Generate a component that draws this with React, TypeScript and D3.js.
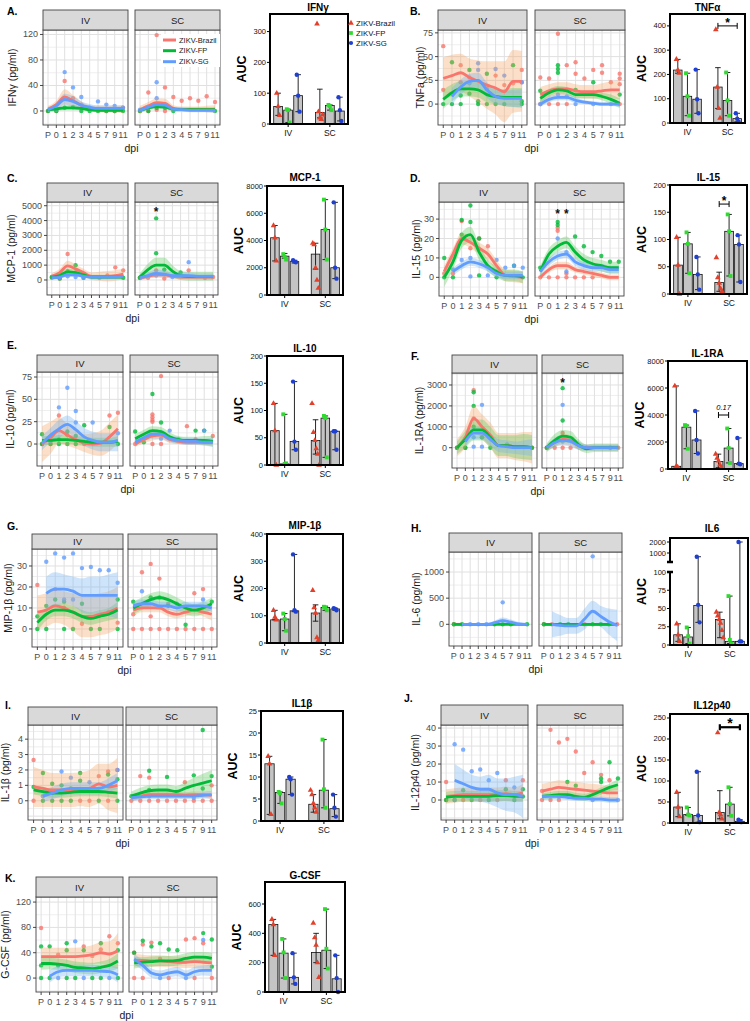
import React from "react";
import * as d3 from "d3";

const DPI = ["P", "0", "1", "2", "3", "4", "5", "7", "9", "11"];
const STRAINS = ["ZIKV-Brazil", "ZIKV-FP", "ZIKV-SG"];
const ROUTES = ["IV", "SC"];
type Pt = [string, number];
type L = (number | null)[];

// ---------- A. IFNγ ----------
const A_IV_LINE: L[] = [[3, 10, 22, 16, 9, 4, 3, 3, 3, 3], [2, 3, 5, 5, 4, 2, 1, 1, 1, 1], [2, 8, 18, 15, 9, 6, 4, 4, 4, 4]];
const A_IV_BAND = [[5, 6, 12, 9, 6, 5, 5, 5, 5, 6], [3, 3, 4, 4, 3, 3, 3, 3, 3, 3], [4, 5, 9, 8, 6, 5, 5, 5, 5, 5]];
const A_IV_PTS: Pt[][] = [
  [["P", 0], ["0", 0], ["1", 47], ["2", 20], ["3", 10], ["4", 5], ["5", 2], ["7", 0], ["9", 0], ["11", 5]],
  [["P", 0], ["0", 0], ["1", 5], ["2", 6], ["3", 0], ["4", 0], ["5", 0], ["7", 0], ["9", 0], ["11", 0]],
  [["1", 61], ["2", 37], ["3", 22], ["5", 15], ["7", 10], ["9", 8], ["11", 5], ["0", 2]],
];
const A_SC_LINE: L[] = [[2, 8, 13, 12, 4, 3, 3, 3, 3, 3], [1, 5, 7, 6, 3, 2, 2, 2, 2, 2], [1, 6, 10, 9, 3, 2, 1, 1, 1, 1]];
const A_SC_BAND = [[6, 6, 7, 7, 5, 4, 4, 4, 5, 6], [3, 3, 4, 4, 3, 2, 2, 2, 2, 3], [3, 4, 5, 5, 3, 3, 3, 3, 3, 4]];
const A_SC_PTS: Pt[][] = [
  [["P", 0], ["0", 29], ["1", 119], ["1", 2], ["2", 37], ["3", 22], ["4", 16], ["5", 20], ["7", 16], ["9", 23], ["11", 14], ["0", 0], ["2", 0]],
  [["P", 0], ["0", 0], ["1", 5], ["2", 5], ["3", 0], ["11", 0]],
  [["1", 45], ["1", 20], ["2", 10], ["P", 2]],
];
const A_AUC_MEAN = [57, 45, 92, 37, 60, 42];
const A_AUC_ERR = [[28, 100], [5, 48], [40, 160], [20, 113], [45, 62], [10, 87]];
const A_AUC_PTS = [[100, 57, 28], [48, 45, 5], [160, 92, 40], [325, 40, 20, 15, 30], [62, 58, 45], [87, 45, 10]];

// ---------- B. TNFα ----------
const B_IV_LINE: L[] = [[27, 30, 33, 28, 24, 20, 17, 13, 24, 24], [5, 12, 16, 16, 15, 10, 8, 7, 7, 7], [null, 8, 18, 24, 25, 15, 8, 6, 6, 6]];
const B_IV_BAND = [[22, 22, 20, 20, 22, 25, 28, 32, 33, 32], [10, 9, 8, 8, 8, 8, 8, 9, 10, 10], [0, 9, 8, 8, 8, 8, 8, 8, 9, 10]];
const B_IV_PTS: Pt[][] = [
  [["P", 61], ["P", 15], ["1", 41], ["1", 23], ["2", 28], ["5", 30], ["7", 20], ["9", 22], ["11", 36], ["11", 23]],
  [["P", 0], ["0", 44], ["0", 0], ["1", 0], ["1", 9], ["2", 36], ["2", 11], ["3", 3], ["3", 0], ["4", 32], ["4", 0], ["5", 0], ["7", 0], ["9", 41], ["11", 3], ["11", 0]],
  [["3", 43], ["3", 36], ["5", 37], ["7", 30], ["11", 23], ["2", 22], ["4", 16]],
];
const B_SC_LINE: L[] = [[10, 14, 16, 16, 14, 13, 13, 14, 15, 15], [6, 12, 15, 14, 10, 10, 10, 8, 5, 1], [0, 5, 7, 7, 4, 2, 1, 0, 0, 0]];
const B_SC_BAND = [[8, 7, 7, 7, 7, 7, 7, 8, 9, 10], [5, 4, 4, 4, 4, 4, 4, 4, 5, 5], [3, 3, 3, 3, 3, 2, 2, 2, 2, 3]];
const B_SC_PTS: Pt[][] = [
  [["P", 28], ["0", 27], ["1", 74], ["2", 41], ["3", 44], ["3", 32], ["4", 27], ["5", 36], ["7", 41], ["7", 33], ["9", 23], ["11", 32], ["11", 27], ["11", 21], ["P", 0], ["0", 0], ["1", 0], ["2", 0], ["11", 0]],
  [["1", 41], ["1", 37], ["1", 33], ["5", 23], ["P", 14], ["11", 10], ["3", 15], ["2", 15]],
  [["P", 0], ["1", 10], ["2", 8], ["3", 0], ["5", 0], ["9", 0]],
];
const B_AUC_MEAN = [218, 110, 98, 148, 93, 18];
const B_AUC_ERR = [[205, 262], [30, 205], [40, 220], [60, 228], [30, 208], [5, 40]];
const B_AUC_PTS = [[262, 218, 205], [205, 110, 30], [220, 98, 40], [385, 148, 60, 20], [208, 93, 30], [40, 18, 5]];

// ---------- C. MCP-1 ----------
const C_IV_LINE: L[] = [[250, 500, 950, 750, 500, 250, 250, 250, 300, 400], [200, 300, 550, 500, 350, 200, 200, 200, 200, 200], [150, 200, 350, 350, 250, 200, 200, 200, 200, 250]];
const C_IV_BAND = [[200, 250, 350, 300, 250, 250, 300, 350, 350, 350], [150, 150, 200, 200, 150, 150, 150, 150, 150, 150], [100, 100, 150, 150, 100, 100, 100, 100, 100, 150]];
const C_IV_PTS: Pt[][] = [
  [["1", 1750], ["P", 150], ["0", 100], ["9", 850], ["11", 650], ["7", 300], ["2", 500]],
  [["1", 600], ["2", 1000], ["P", 200], ["0", 100], ["3", 150], ["11", 150]],
  [["1", 250], ["2", 200], ["3", 150], ["5", 150], ["0", 150]],
];
const C_SC_LINE: L[] = [[150, 250, 350, 350, 250, 200, 200, 200, 200, 200], [200, 700, 1000, 1000, 600, 300, 250, 250, 250, 250], [150, 300, 450, 400, 300, 300, 300, 250, 250, 250]];
const C_SC_BAND = [[150, 150, 200, 200, 150, 150, 150, 150, 150, 200], [250, 400, 500, 500, 400, 300, 300, 300, 300, 300], [150, 200, 250, 250, 200, 200, 200, 200, 200, 200]];
const C_SC_PTS: Pt[][] = [
  [["5", 650], ["1", 650], ["P", 150], ["0", 150], ["2", 100], ["11", 200], ["9", 150]],
  [["1", 4150], ["1", 1800], ["4", 500], ["P", 150], ["2", 700]],
  [["5", 1200], ["1", 300], ["3", 200]],
];
const C_AUC_MEAN = [4200, 2850, 2450, 3000, 4800, 2000];
const C_AUC_ERR = [[2500, 5100], [2700, 3050], [2350, 2550], [1900, 3800], [2600, 7000], [1200, 6800]];
const C_AUC_PTS = [[5100, 4200, 2500], [3000, 2800, 2600], [2550, 2450, 2400], [3800, 3700, 2000, 1100, 500], [7000, 4800, 2600], [6800, 2000, 1200]];

// ---------- D. IL-15 ----------
const D_IV_LINE: L[] = [[3, 12, 20, 18, 15, 12, 6, 1, 0.5, 0], [0, 8, 19, 22, 13, 6, 3, 1, 1, 0], [null, 3, 6, 8, 7, 5, 2, 1, 1, 1]];
const D_IV_BAND = [[3, 3, 3, 3, 3, 3, 3, 3, 3, 3], [5, 4, 4, 4, 4, 3, 3, 3, 3, 3], [0, 2, 2, 2, 2, 2, 2, 2, 2, 2]];
const D_IV_PTS: Pt[][] = [
  [["1", 29], ["2", 15], ["3", 20], ["4", 16], ["P", 2], ["0", 2]],
  [["P", 10], ["P", 0], ["0", 0], ["1", 29.5], ["1", 22], ["2", 37], ["2", 28.5], ["3", 1], ["3", 20], ["5", 0], ["11", 0], ["9", 6]],
  [["1", 9], ["2", 0.5], ["2", 10], ["5", 9], ["7", 5], ["9", 6], ["11", 5], ["0", 4], ["4", 1]],
];
const D_SC_LINE: L[] = [[0, 4, 6, 6, 4, 3, 2, 1, 0, 0], [3, 12, 16, 18, 13, 9, 7, 6, 5, 5], [3, 8, 11, 12, 8, 6, 5, 5, 4, 4]];
const D_SC_BAND = [[1.5, 1.5, 2, 2, 1.5, 1.5, 1.5, 1.5, 1.5, 1.5], [3, 3, 3, 3, 3, 3, 3, 3, 3, 3], [2, 2, 2, 2, 2, 2, 2, 2, 2, 2]];
const D_SC_PTS: Pt[][] = [
  [["1", 25.5], ["1", 24], ["1", 0], ["2", 0], ["0", 0], ["P", 0], ["3", 0], ["4", 0], ["5", 0], ["2", 2]],
  [["1", 28.5], ["1", 27], ["3", 21], ["4", 16], ["5", 13], ["7", 11], ["9", 8], ["11", 8], ["P", 5]],
  [["1", 20], ["2", 3], ["2", 13]],
];
const D_AUC_MEAN = [53, 92, 36, 21, 115, 91];
const D_AUC_ERR = [[0, 104], [38, 113], [8, 68], [5, 40], [33, 146], [22, 108]];
const D_AUC_PTS = [[104, 53, 0], [113, 92, 38], [68, 36, 8], [67, 30, 20, 10, 5], [146, 115, 33], [108, 91, 22]];

// ---------- E. IL-10 ----------
const E_IV_LINE: L[] = [[0, 7, 15, 10, 5, 1, 0, 1, 8, 17], [4, 4, 5, 5, 4, 3, 2, 2, 2, 3], [1, 10, 17, 22, 16, 8, 4, 2, 2, 4]];
const E_IV_BAND = [[20, 18, 15, 12, 10, 10, 12, 14, 16, 16], [5, 5, 5, 5, 5, 5, 5, 5, 5, 6], [8, 8, 10, 10, 10, 10, 10, 10, 10, 12]];
const E_IV_PTS: Pt[][] = [
  [["1", 32], ["9", 32], ["11", 35], ["P", 0], ["0", 0], ["2", 10], ["4", 0]],
  [["P", 11], ["1", 5], ["4", 21], ["9", 19], ["11", 0], ["P", 0], ["0", 0], ["1", 0], ["2", 14], ["3", 0], ["2", 0], ["3", 9]],
  [["2", 63], ["1", 41], ["3", 37], ["3", 24], ["5", 24], ["11", 12], ["0", 3]],
];
const E_SC_LINE: L[] = [[0, 5, 9, 10, 5, 3, 2, 2, 2, 2], [6, 11, 15, 14, 8, 5, 4, 4, 4, 3], [2, 7, 11, 11, 6, 4, 3, 3, 2, 2]];
const E_SC_BAND = [[3, 4, 5, 5, 4, 3, 3, 3, 3, 3], [5, 5, 5, 5, 5, 4, 4, 4, 5, 6], [4, 4, 5, 5, 4, 4, 4, 4, 4, 5]];
const E_SC_PTS: Pt[][] = [
  [["2", 76], ["1", 33], ["1", 30], ["1", 27], ["1", 25], ["5", 20], ["1", 0], ["2", 0], ["P", 0], ["11", 9], ["7", 5]],
  [["1", 56], ["2", 24], ["P", 14], ["9", 15], ["7", 15], ["0", 2], ["4", 5]],
  [["3", 15], ["9", 15], ["1", 10], ["2", 6]],
];
const E_AUC_MEAN = [63, 2, 43, 45, 86, 62];
const E_AUC_ERR = [[0, 113], [0, 93], [28, 153], [20, 83], [14, 90], [28, 62]];
const E_AUC_PTS = [[113, 63, 0], [93, 2, 3], [153, 43, 28], [113, 60, 45, 30, 20, 0], [90, 86, 14], [62, 62, 28]];

// ---------- F. IL-1RA ----------
const F_IV_LINE: L[] = [[0, 500, 1400, 1000, 600, 100, 100, 50, 50, 0], [0, 400, 850, 850, 500, 100, 100, 50, 50, 0], [null, 300, 700, 700, 400, 100, 50, 0, 0, 0]];
const F_IV_BAND = [[400, 500, 600, 600, 600, 600, 600, 650, 700, 750], [300, 400, 500, 500, 500, 500, 500, 550, 600, 600], [0, 250, 300, 300, 300, 300, 300, 300, 350, 400]];
const F_IV_PTS: Pt[][] = [
  [["1", 2750], ["P", 0], ["0", 0], ["1", 1400], ["2", 500], ["11", 0]],
  [["1", 2650], ["1", 2000], ["P", 0], ["0", 0], ["2", 500], ["3", 0], ["11", 0], ["1", 1000]],
  [["2", 2050], ["1", 500], ["1", 50], ["2", 50], ["5", 150]],
];
const F_SC_LINE: L[] = [[0, 250, 400, 350, 100, 0, 0, 0, 0, 0], [0, 350, 550, 500, 150, -50, 0, 0, 0, 0], [0, 250, 350, 300, 100, 0, 0, 0, 0, 0]];
const F_SC_BAND = [[150, 200, 250, 250, 200, 150, 150, 150, 150, 150], [200, 300, 300, 300, 250, 200, 200, 200, 200, 200], [150, 200, 250, 250, 200, 150, 150, 150, 150, 150]];
const F_SC_PTS: Pt[][] = [
  [["1", 700], ["1", 0], ["2", 0], ["0", 0], ["11", 0], ["P", 0]],
  [["1", 2850], ["1", 1300], ["P", 0], ["4", 0], ["9", 0]],
  [["1", 2050], ["1", 300]],
];
const F_AUC_MEAN = [200, 3100, 2150, 550, 1550, 400];
const F_AUC_ERR = [[150, 6150], [1500, 3250], [1150, 4300], [100, 1100], [450, 3000], [350, 2300]];
const F_AUC_PTS = [[6150, 200, 150], [3250, 3200, 1500], [4300, 2150, 1150], [1100, 800, 600, 300, 100], [3000, 1550, 450], [2300, 400, 350]];

// ---------- G. MIP-1β ----------
const G_IV_LINE: L[] = [[8, 9, 11, 10, 8, 6, 6, 7, 8, 10], [3, 7, 9, 9, 8, 6, 5, 6, 7, 9], [null, 17, 19, 19, 18, 16, 16, 16, 16, 16]];
const G_IV_BAND = [[8, 8, 8, 8, 9, 10, 10, 10, 10, 10], [4, 3, 3, 3, 3, 3, 3, 3, 3, 4], [0, 8, 8, 7, 7, 8, 9, 9, 10, 11]];
const G_IV_PTS: Pt[][] = [
  [["P", 21], ["1", 19], ["11", 3], ["4", 2.5], ["2", 10], ["9", 8]],
  [["P", 6], ["P", 0], ["0", 0], ["1", 14], ["2", 0], ["3", 0], ["5", 0], ["7", 0], ["11", 0], ["11", 14], ["0", 11], ["2", 13], ["4", 12]],
  [["0", 32], ["1", 36], ["2", 34], ["3", 36], ["4", 29], ["5", 29.5], ["7", 28], ["9", 28], ["11", 22], ["2", 14], ["3", 14]],
];
const G_SC_LINE: L[] = [[9, 10, 10, 10, 8, 7, 8, 9, 8, 7], [10, 12, 14, 15, 14, 12, 10, 9, 10, 12], [11, 12, 12, 11, 11, 10, 11, 11, 11, 10]];
const G_SC_BAND = [[3, 2, 2, 2, 2, 2, 2, 2, 2, 3], [3, 3, 3, 3, 3, 3, 3, 3, 3, 3], [2, 2, 2, 2, 2, 2, 2, 2, 2, 2]];
const G_SC_PTS: Pt[][] = [
  [["0", 27], ["1", 31], ["2", 24], ["9", 19], ["7", 17], ["P", 7], ["P", 0], ["0", 0], ["1", 0], ["2", 0], ["3", 0], ["4", 0], ["5", 0], ["7", 0], ["9", 0], ["11", 0], ["1", 6], ["3", 12]],
  [["1", 15], ["2", 15], ["5", 2], ["P", 13], ["11", 13], ["3", 11]],
  [["0", 18], ["9", 14], ["4", 12]],
];
const G_AUC_MEAN = [85, 88, 118, 110, 130, 125];
const G_AUC_ERR = [[85, 120], [45, 108], [115, 325], [80, 140], [120, 135], [120, 128]];
const G_AUC_PTS = [[120, 95, 85], [108, 88, 45], [325, 120, 115], [193, 130, 110, 20, 10], [133, 130, 120], [128, 125, 120]];

// ---------- H. IL-6 ----------
const H_IV_LINE: L[] = [[0, 0, null, null, null, null, null, null, null, null], [0, 0, 0, 0, 0, 0, 0, 0, 0, 0], [null, 0, 0, 0, 0, 30, 70, 40, 10, 0]];
const H_IV_BAND = [[5, 5, 5, 5, 5, 5, 5, 5, 5, 5], [5, 5, 5, 5, 5, 5, 5, 5, 5, 5], [0, 20, 20, 20, 20, 40, 60, 50, 30, 20]];
const H_IV_PTS: Pt[][] = [
  [["P", 0]],
  [["P", 0], ["0", 0], ["4", 0], ["5", 0], ["7", 0], ["11", 0]],
  [["5", 420], ["1", 0], ["2", 0], ["3", 0]],
];
const H_SC_LINE: L[] = [[0, 0, 0, 0, 0, 0, 0, 0, 0, 0], [0, 0, 0, 0, 0, 0, 0, 0, 0, 0], [null, 0, -20, -30, -30, 100, 250, 150, 50, -20]];
const H_SC_BAND = [[5, 5, 5, 5, 5, 5, 5, 5, 5, 5], [5, 5, 5, 5, 5, 5, 5, 5, 5, 5], [0, 250, 200, 150, 150, 200, 200, 200, 250, 300]];
const H_SC_PTS: Pt[][] = [
  [["P", 0], ["0", 0], ["11", 0], ["4", 0]],
  [["P", 0], ["1", 0], ["2", 0], ["5", 0], ["7", 0], ["9", 0]],
  [["5", 1300]],
];
const H_AUC_MEAN = [14, 11, 54, 35, 5, 5];
const H_AUC_ERR = [[5, 29], [2, 24], [31, 660], [10, 45], [2, 67], [5, 2000]];
const H_AUC_PTS = [[29, 14, 5], [24, 12, 2], [660, 55, 31], [45, 40, 35, 30, 20, 10], [67, 7, 2], [2000, 5, 5]];

// ---------- I. IL-1β ----------
const I_IV_LINE: L[] = [[0.9, 0.8, 0.7, 0.7, 0.7, 0.75, 0.8, 1.1, 0.9, 1.0], [0.7, 0.6, 0.5, 0.5, 0.55, 0.6, 0.6, 0.6, 0.55, 0.5], [null, 0.3, 0.5, 0.7, 0.8, 0.8, 0.8, 0.8, 1.0, 1.3]];
const I_IV_BAND = [[1.3, 1.2, 1.1, 1.1, 1.1, 1.1, 1.2, 1.3, 1.5, 1.8], [0.3, 0.3, 0.3, 0.3, 0.3, 0.3, 0.3, 0.3, 0.3, 0.35], [0, 0.4, 0.4, 0.4, 0.4, 0.4, 0.4, 0.4, 0.45, 0.5]];
const I_IV_PTS: Pt[][] = [
  [["P", 2.65], ["7", 1.6], ["9", 1.9], ["11", 2.0], ["P", 0], ["4", 0], ["5", 0], ["9", 0]],
  [["0", 1.8], ["1", 1.1], ["4", 1.8], ["4", 1.3], ["9", 1.7], ["11", 1.4], ["P", 0.9], ["0", 0], ["1", 0], ["2", 0], ["3", 0], ["7", 0], ["11", 0], ["2", 1.0], ["3", 0.8]],
  [["2", 1.9], ["3", 1.5], ["5", 1.2], ["11", 2.0], ["1", 0.5], ["0", 0.3]],
];
const I_SC_LINE: L[] = [[0.2, 0.3, 0.4, 0.4, 0.4, 0.4, 0.35, 0.4, 0.4, 0.35], [0.3, 0.5, 0.65, 0.7, 0.7, 0.6, 0.8, 1.0, 1.15, 1.3], [0.2, 0.25, 0.3, 0.3, 0.3, 0.3, 0.3, 0.3, 0.35, 0.4]];
const I_SC_BAND = [[0.25, 0.2, 0.2, 0.2, 0.2, 0.2, 0.2, 0.2, 0.2, 0.25], [0.3, 0.35, 0.35, 0.35, 0.35, 0.35, 0.4, 0.5, 0.6, 0.7], [0.2, 0.2, 0.2, 0.2, 0.2, 0.2, 0.2, 0.2, 0.2, 0.25]];
const I_SC_PTS: Pt[][] = [
  [["0", 1.6], ["1", 1.5], ["5", 1.2], ["P", 0], ["0", 0], ["1", 0], ["2", 0], ["3", 0], ["4", 0], ["5", 0], ["7", 0], ["9", 0], ["11", 0], ["11", 1.0]],
  [["9", 4.6], ["1", 1.95], ["3", 1.55], ["7", 1.65], ["11", 1.6], ["P", 0.3], ["1", 0.7], ["9", 0.8]],
  [["1", 0.3], ["7", 0.2]],
];
const I_AUC_MEAN = [13, 6.5, 9.5, 3.8, 7, 2.8];
const I_AUC_ERR = [[1.5, 14.7], [4, 6.6], [6, 10], [2, 6], [3, 18.5], [1, 6]];
const I_AUC_PTS = [[14.7, 13, 1.5], [6.6, 6.3, 4], [10, 9.5, 6], [7, 6, 4, 3, 2], [18.5, 7.2, 3], [6, 3, 1]];

// ---------- J. IL-12p40 ----------
const J_IV_LINE: L[] = [[2, 2.5, 3, 3, 3, 3, 3, 3.5, 3, 4], [1.5, 2, 2, 2, 2, 2, 2.5, 2.5, 2, 2], [null, 11, 9, 7, 6, 6, 4, 3, 3, 2]];
const J_IV_BAND = [[4, 4, 4, 4, 4, 4, 4, 4, 4, 5], [3, 3, 3, 3, 3, 3, 3, 3, 3, 3], [0, 9, 8, 7, 7, 8, 8, 9, 10, 12]];
const J_IV_PTS: Pt[][] = [
  [["P", 10], ["7", 11], ["11", 11], ["P", 0], ["1", 0], ["3", 0], ["5", 0]],
  [["1", 5.5], ["7", 6], ["11", 6], ["P", 0], ["0", 0], ["2", 0], ["4", 0], ["9", 0], ["11", 2]],
  [["0", 31], ["1", 28], ["2", 16], ["3", 17], ["4", 11], ["5", 15], ["0", 0], ["9", 7]],
];
const J_SC_LINE: L[] = [[5, 6, 7, 6.5, 6, 5.5, 5, 4.5, 4, 4], [2, 2.5, 3, 3, 2, 1.5, 3, 5, 7, 8.5], [2, 2, 2, 1.5, 1, 1, 0.5, 0.5, 0, 0]];
const J_SC_BAND = [[4, 4, 4, 4, 4, 4, 4, 4, 4, 4], [2, 2, 2, 2, 2, 2, 2, 2, 2, 3], [1.5, 1.5, 1.5, 1.5, 1.5, 1.5, 1.5, 1.5, 1.5, 1.5]];
const J_SC_PTS: Pt[][] = [
  [["0", 39], ["1", 32], ["2", 34], ["3", 27], ["4", 15], ["5", 21], ["7", 14], ["9", 11], ["P", 5], ["P", 0], ["0", 0], ["1", 0]],
  [["9", 21], ["7", 12], ["7", 10], ["11", 12], ["2", 10], ["3", 8]],
  [["1", 2], ["11", 0], ["5", 0]],
];
const J_AUC_MEAN = [38, 20, 18, 25, 45, 4];
const J_AUC_ERR = [[15, 73], [18, 37], [2, 122], [10, 77], [17, 85], [2, 8]];
const J_AUC_PTS = [[73, 38, 15], [37, 20, 18], [122, 18, 2], [215, 25, 20, 10], [85, 45, 17], [8, 5, 2]];

// ---------- K. G-CSF ----------
const K_IV_LINE: L[] = [[34, 34, 34, 34, 34, 35, 37, 40, 38, 43], [23, 23, 22, 20, 17, 16, 15, 17, 20, 27], [null, 3, 10, 12, 12, 12, 12, 11, 10, 5]];
const K_IV_BAND = [[15, 14, 14, 14, 14, 14, 15, 17, 20, 28], [10, 9, 9, 9, 9, 9, 9, 9, 10, 12], [0, 10, 9, 9, 9, 9, 9, 9, 10, 12]];
const K_IV_PTS: Pt[][] = [
  [["P", 79], ["9", 66], ["11", 55], ["4", 50], ["1", 37], ["7", 45], ["5", 35]],
  [["P", 50], ["0", 50], ["2", 55], ["2", 44], ["4", 44], ["7", 55], ["11", 44], ["P", 20], ["P", 0], ["0", 0], ["2", 0], ["3", 0], ["5", 0], ["7", 0], ["11", 0], ["1", 20]],
  [["3", 58], ["9", 0], ["4", 0], ["1", 0]],
];
const K_SC_LINE: L[] = [[28, 28, 27, 27, 26, 25, 25, 26, 25, 24], [24, 25, 26, 27, 27, 28, 31, 33, 33, 31], [30, 20, 8, 5, 8, 10, 5, 10, 12, 12]];
const K_SC_BAND = [[10, 9, 9, 9, 9, 9, 9, 10, 10, 12], [9, 8, 8, 8, 8, 8, 8, 8, 8, 9], [8, 8, 7, 7, 7, 7, 7, 8, 8, 9]];
const K_SC_PTS: Pt[][] = [
  [["5", 61], ["7", 63], ["9", 55], ["0", 53], ["1", 56], ["P", 40], ["P", 0], ["0", 0], ["3", 0], ["11", 0], ["7", 0], ["2", 30]],
  [["0", 59], ["9", 71], ["11", 61], ["2", 55], ["1", 50], ["3", 45], ["P", 40], ["11", 18], ["4", 44]],
  [["9", 60], ["2", 0], ["5", 0]],
];
const K_AUC_MEAN = [460, 265, 100, 270, 285, 90];
const K_AUC_ERR = [[250, 495], [95, 362], [55, 265], [200, 400], [160, 565], [0, 250]];
const K_AUC_PTS = [[495, 460, 250], [362, 270, 95], [265, 100, 55], [470, 370, 320, 200, 100], [565, 295, 160], [250, 95, 0]];

// ---------- styles ----------
const FONT = "'Liberation Sans', Arial, Helvetica, sans-serif";
const LINE_COLORS = ["#F8766D", "#00BA38", "#619CFF"];
const BAND_FILLS = ["#F4A460", "#5CC85C", "#6FB3F2"];
const BAR_COLORS = ["#E3402B", "#2EDB2E", "#1E3FD0"];

type Sig = { a: number; b: number; v: number; text: string; italic?: boolean; thick?: boolean };
type Star = { x: string; v: number };

const PANELS: any[] = [
  {
    key: "A", label: "A.", lx: 7, ly: 15, ytitle: "IFNγ (pg/ml)", ytx: 12,
    stripTop: 10, top: 30, bottom: 125, iv: [43, 128], sc: [135, 220], yDomain: [-22, 127], yTicks: [0, 40, 80, 120],
    ivLine: A_IV_LINE, ivBand: A_IV_BAND, ivPts: A_IV_PTS, scLine: A_SC_LINE, scBand: A_SC_BAND, scPts: A_SC_PTS,
    bar: { x0: 270, x1: 348, y0: 14, y1: 124, domain: [0, 357], ticks: [0, 100, 200, 300], title: "IFNγ", tx: 318, ty: 11 },
    mean: A_AUC_MEAN, err: A_AUC_ERR, pts: A_AUC_PTS, sig: [], stars: [],
  },
  {
    key: "B", label: "B.", lx: 410, ly: 15, ytitle: "TNFa (pg/ml)", ytx: 420,
    stripTop: 10, top: 30, bottom: 125, iv: [438, 527], sc: [535, 625], yDomain: [-22, 78], yTicks: [0, 25, 50, 75],
    ivLine: B_IV_LINE, ivBand: B_IV_BAND, ivPts: B_IV_PTS, scLine: B_SC_LINE, scBand: B_SC_BAND, scPts: B_SC_PTS,
    bar: { x0: 670, x1: 745, y0: 14, y1: 123, domain: [0, 449], ticks: [0, 100, 200, 300, 400], title: "TNFα", ty: 11 },
    mean: B_AUC_MEAN, err: B_AUC_ERR, pts: B_AUC_PTS, sig: [{ a: 3, b: 5, v: 400, text: "*" }], stars: [],
  },
  {
    key: "C", label: "C.", lx: 7, ly: 182, ytitle: "MCP-1 (pg/ml)", ytx: 11,
    stripTop: 183, top: 202, bottom: 295, iv: [47, 128], sc: [135, 218], yDomain: [-1010, 5250], yTicks: [0, 1000, 2000, 3000, 4000, 5000],
    ivLine: C_IV_LINE, ivBand: C_IV_BAND, ivPts: C_IV_PTS, scLine: C_SC_LINE, scBand: C_SC_BAND, scPts: C_SC_PTS,
    bar: { x0: 267, x1: 343, y0: 186, y1: 295, domain: [0, 8000], ticks: [0, 2000, 4000, 6000, 8000], title: "MCP-1", ty: 181 },
    mean: C_AUC_MEAN, err: C_AUC_ERR, pts: C_AUC_PTS, sig: [], stars: [{ x: "1", v: 4650 }],
  },
  {
    key: "D", label: "D.", lx: 410, ly: 182, ytitle: "IL-15 (pg/ml)", ytx: 416,
    stripTop: 183, top: 202, bottom: 296, iv: [439, 528], sc: [535, 624], yDomain: [-9.6, 38.8], yTicks: [0, 10, 20, 30],
    ivLine: D_IV_LINE, ivBand: D_IV_BAND, ivPts: D_IV_PTS, scLine: D_SC_LINE, scBand: D_SC_BAND, scPts: D_SC_PTS,
    bar: { x0: 670, x1: 747, y0: 185, y1: 294, domain: [0, 200], ticks: [0, 50, 100, 150, 200], title: "IL-15", ty: 181 },
    mean: D_AUC_MEAN, err: D_AUC_ERR, pts: D_AUC_PTS, sig: [{ a: 3, b: 4, v: 165, text: "*" }], stars: [{ x: "1", v: 33 }, { x: "2", v: 33 }],
  },
  {
    key: "E", label: "E.", lx: 7, ly: 349, ytitle: "IL-10 (pg/ml)", ytx: 10,
    stripTop: 355, top: 372, bottom: 466, iv: [37, 123], sc: [130, 218], yDomain: [-24.6, 80.6], yTicks: [0, 25, 50, 75],
    ivLine: E_IV_LINE, ivBand: E_IV_BAND, ivPts: E_IV_PTS, scLine: E_SC_LINE, scBand: E_SC_BAND, scPts: E_SC_PTS,
    bar: { x0: 267, x1: 343, y0: 356, y1: 465, domain: [0, 200], ticks: [0, 50, 100, 150, 200], title: "IL-10", ty: 352 },
    mean: E_AUC_MEAN, err: E_AUC_ERR, pts: E_AUC_PTS, sig: [], stars: [],
  },
  {
    key: "F", label: "F.", lx: 411, ly: 360, ytitle: "IL-1RA (pg/ml)", ytx: 419,
    stripTop: 355, top: 373, bottom: 468, iv: [452, 537], sc: [542, 623], yDomain: [-971, 3574], yTicks: [0, 1000, 2000, 3000],
    ivLine: F_IV_LINE, ivBand: F_IV_BAND, ivPts: F_IV_PTS, scLine: F_SC_LINE, scBand: F_SC_BAND, scPts: F_SC_PTS,
    bar: { x0: 668, x1: 747, y0: 361, y1: 469, domain: [0, 8000], ticks: [0, 2000, 4000, 6000, 8000], title: "IL-1RA", ty: 357 },
    mean: F_AUC_MEAN, err: F_AUC_ERR, pts: F_AUC_PTS, sig: [{ a: 3, b: 4, v: 4000, text: "0.17", italic: true }], stars: [{ x: "1", v: 3150 }],
  },
  {
    key: "G", label: "G.", lx: 7, ly: 530, ytitle: "MIP-1β (pg/ml)", ytx: 8,
    stripTop: 534, top: 549, bottom: 647, iv: [32, 123], sc: [128, 217], yDomain: [-8.6, 38.1], yTicks: [0, 10, 20, 30],
    ivLine: G_IV_LINE, ivBand: G_IV_BAND, ivPts: G_IV_PTS, scLine: G_SC_LINE, scBand: G_SC_BAND, scPts: G_SC_PTS,
    bar: { x0: 267, x1: 343, y0: 534, y1: 643, domain: [0, 400], ticks: [0, 100, 200, 300, 400], title: "MIP-1β", ty: 529 },
    mean: G_AUC_MEAN, err: G_AUC_ERR, pts: G_AUC_PTS, sig: [], stars: [],
  },
  {
    key: "H", label: "H.", lx: 411, ly: 532, ytitle: "IL-6 (pg/ml)", ytx: 416,
    stripTop: 533, top: 552, bottom: 646, iv: [449, 532], sc: [539, 622], yDomain: [-415, 1383], yTicks: [0, 500, 1000],
    ivLine: H_IV_LINE, ivBand: H_IV_BAND, ivPts: H_IV_PTS, scLine: H_SC_LINE, scBand: H_SC_BAND, scPts: H_SC_PTS,
    bar: { x0: 670, x1: 748, y0: 538, y1: 645, domain: [0, 100], ticks: [0, 25, 50, 75, 100], upper: [1000, 2000], title: "IL6", tx: 712, ty: 532 },
    mean: H_AUC_MEAN, err: H_AUC_ERR, pts: H_AUC_PTS, sig: [], stars: [],
  },
  {
    key: "I", label: "I.", lx: 5, ly: 709, ytitle: "IL-1β (pg/ml)", ytx: 5,
    stripTop: 707, top: 725, bottom: 820, iv: [28, 123], sc: [126, 217], yDomain: [-1.25, 4.92], yTicks: [0, 1, 2, 3, 4],
    ivLine: I_IV_LINE, ivBand: I_IV_BAND, ivPts: I_IV_PTS, scLine: I_SC_LINE, scBand: I_SC_BAND, scPts: I_SC_PTS,
    bar: { x0: 261, x1: 343, y0: 711, y1: 821, domain: [0, 25], ticks: [0, 5, 10, 15, 20, 25], title: "IL1β", ty: 707 },
    mean: I_AUC_MEAN, err: I_AUC_ERR, pts: I_AUC_PTS, sig: [], stars: [],
  },
  {
    key: "J", label: "J.", lx: 404, ly: 702, ytitle: "IL-12p40 (pg/ml)", ytx: 415,
    stripTop: 705, top: 725, bottom: 820, iv: [441, 528], sc: [537, 623], yDomain: [-11.1, 41.7], yTicks: [0, 10, 20, 30, 40],
    ivLine: J_IV_LINE, ivBand: J_IV_BAND, ivPts: J_IV_PTS, scLine: J_SC_LINE, scBand: J_SC_BAND, scPts: J_SC_PTS,
    bar: { x0: 670, x1: 748, y0: 714, y1: 823, domain: [0, 259.5], ticks: [0, 50, 100, 150, 200, 250], title: "IL12p40", tx: 712, ty: 709 },
    mean: J_AUC_MEAN, err: J_AUC_ERR, pts: J_AUC_PTS, sig: [{ a: 3, b: 5, v: 228, text: "*", thick: true }], stars: [],
  },
  {
    key: "K", label: "K.", lx: 5, ly: 882, ytitle: "G-CSF (pg/ml)", ytx: 5,
    stripTop: 877, top: 897, bottom: 992, iv: [36, 123], sc: [129, 217], yDomain: [-22, 128], yTicks: [0, 40, 80, 120],
    ivLine: K_IV_LINE, ivBand: K_IV_BAND, ivPts: K_IV_PTS, scLine: K_SC_LINE, scBand: K_SC_BAND, scPts: K_SC_PTS,
    bar: { x0: 265, x1: 345, y0: 882, y1: 992, domain: [0, 750], ticks: [0, 200, 400, 600], title: "G-CSF", ty: 879 },
    mean: K_AUC_MEAN, err: K_AUC_ERR, pts: K_AUC_PTS, sig: [], stars: [],
  },
];

function Facet({ p, name, xr, lines, bands, pts, y, stars }: any) {
  const x = d3.scalePoint<string>().domain(DPI).range(xr).padding(0.6);
  const clipId = `clip-${p.key}-${name}`;
  const step = p.yTicks[1] - p.yTicks[0];
  const half = step / 2;
  const gridVals = d3.range(Math.ceil(p.yDomain[0] / half) * half, p.yDomain[1], half);
  const lineGen = d3
    .line<number | null>()
    .defined((v) => v != null)
    .x((_, j) => x(DPI[j])!)
    .y((v) => y(v as number))
    .curve(d3.curveMonotoneX);
  return (
    <g>
      <defs>
        <clipPath id={clipId}>
          <rect x={xr[0]} y={p.top} width={xr[1] - xr[0]} height={p.bottom - p.top} />
        </clipPath>
      </defs>
      <rect x={xr[0]} y={p.top} width={xr[1] - xr[0]} height={p.bottom - p.top} fill="#fff" />
      <g clipPath={`url(#${clipId})`}>
        {gridVals.map((v: number, i: number) => {
          const major = Math.abs(v / step - Math.round(v / step)) < 1e-6;
          return <line key={"h" + i} x1={xr[0]} x2={xr[1]} y1={y(v)} y2={y(v)} stroke={major ? "#e0e0e0" : "#ebebeb"} strokeWidth={major ? 1 : 0.8} />;
        })}
        {DPI.map((d) => (
          <line key={"v" + d} x1={x(d)} x2={x(d)} y1={p.top} y2={p.bottom} stroke="#e0e0e0" strokeWidth={1} />
        ))}
        {pts.map((ser: Pt[], i: number) =>
          ser.map((pt: Pt, k: number) => (
            <circle key={`p${i}-${k}`} cx={x(pt[0])} cy={y(pt[1])} r={2.2} fill={LINE_COLORS[i]} opacity={0.8} />
          ))
        )}
        {lines.map((ln: L, i: number) => {
          const area = d3
            .area<number | null>()
            .defined((v, j) => v != null && bands[i][j] > 0)
            .x((_, j) => x(DPI[j])!)
            .y0((v, j) => y((v as number) - bands[i][j]))
            .y1((v, j) => y((v as number) + bands[i][j]))
            .curve(d3.curveMonotoneX);
          return <path key={"b" + i} d={area(ln) || ""} fill={BAND_FILLS[i]} opacity={0.35} />;
        })}
        {lines.map((ln: L, i: number) => (
          <path key={"l" + i} d={lineGen(ln) || ""} fill="none" stroke={LINE_COLORS[i]} strokeWidth={2.8} strokeLinejoin="round" />
        ))}
      </g>
      {stars.map((s: Star, i: number) => (
        <text key={"s" + i} x={x(s.x)} y={y(s.v) + 5} textAnchor="middle" fontSize={12} fontWeight="bold" fill="#111">*</text>
      ))}
      <rect x={xr[0]} y={p.top} width={xr[1] - xr[0]} height={p.bottom - p.top} fill="none" stroke="#444" strokeWidth={0.9} />
      <rect x={xr[0]} y={p.stripTop} width={xr[1] - xr[0]} height={p.top - p.stripTop} fill="#d9d9d9" stroke="#444" strokeWidth={0.9} />
      <text x={(xr[0] + xr[1]) / 2} y={(p.stripTop + p.top) / 2} dominantBaseline="central" textAnchor="middle" fontSize={9.5} fill="#1a1a1a">{name}</text>
      {DPI.map((d) => (
        <g key={"t" + d}>
          <line x1={x(d)} x2={x(d)} y1={p.bottom} y2={p.bottom + 3} stroke="#333" strokeWidth={0.9} />
          <text x={x(d)} y={p.bottom + 13} textAnchor="middle" fontSize={9} fill="#4d4d4d">{d}</text>
        </g>
      ))}
    </g>
  );
}

function AucChart({ p }: any) {
  const b = p.bar;
  const outer = d3.scaleBand<string>().domain(ROUTES).range([b.x0, b.x1]).paddingInner(0.25).paddingOuter(0.06);
  const inner = d3.scaleBand<string>().domain(STRAINS).range([0, outer.bandwidth()]).padding(0.12);
  const broken = !!b.upper;
  const lower = d3.scaleLinear().domain(b.domain).range([b.y1, broken ? 572 : b.y0]);
  const upper = d3.scaleLinear().domain(b.upper || [0, 1]).range([553, 542]);
  const ys = (v: number) => (broken && v > b.domain[1] ? upper(v) : lower(v));
  const barX = (k: number) => outer(ROUTES[Math.floor(k / 3)])! + inner(STRAINS[k % 3])!;
  const bw = inner.bandwidth();
  const sym = [d3.symbolTriangle, d3.symbolSquare, d3.symbolCircle];
  const ticks = broken ? [...b.ticks, ...b.upper] : b.ticks;
  const midY = (b.y0 + b.y1) / 2;
  return (
    <g>
      <text x={b.tx ?? (b.x0 + b.x1) / 2} y={b.ty} textAnchor="middle" fontSize={10} fontWeight="bold" fill="#000">{b.title}</text>
      <text transform={`translate(${b.x0 - 28},${midY}) rotate(-90)`} textAnchor="middle" dominantBaseline="central" fontSize={12.5} fontWeight="bold" fill="#000">AUC</text>
      {p.mean.map((m: number, k: number) => (
        <rect key={"bar" + k} x={barX(k)} y={ys(m)} width={bw} height={Math.max(0, b.y1 - ys(m))} fill="#c4c4c4" stroke="#111" strokeWidth={0.8} />
      ))}
      {p.err.map((e: number[], k: number) => {
        const cx = barX(k) + bw / 2;
        return (
          <g key={"err" + k} stroke="#111" strokeWidth={0.9}>
            <line x1={cx} x2={cx} y1={ys(e[0])} y2={ys(e[1])} />
            <line x1={cx - 2.8} x2={cx + 2.8} y1={ys(e[1])} y2={ys(e[1])} />
            <line x1={cx - 2.8} x2={cx + 2.8} y1={ys(e[0])} y2={ys(e[0])} />
          </g>
        );
      })}
      {p.pts.map((arr: number[], k: number) =>
        arr.map((v: number, j: number) => {
          const cx = barX(k) + bw / 2 + (j - (arr.length - 1) / 2) * 1.4;
          const path = d3.symbol().type(sym[k % 3]).size(k % 3 === 0 ? 14 : 15)();
          return <path key={`pt${k}-${j}`} d={path || ""} transform={`translate(${cx},${ys(v)})`} fill={BAR_COLORS[k % 3]} />;
        })
      )}
      {p.sig.map((s: Sig, i: number) => {
        const xa = barX(s.a) + bw / 2;
        const xb = barX(s.b) + bw / 2;
        const yy = ys(s.v);
        const sw = s.thick ? 2.2 : 1;
        return (
          <g key={"sig" + i}>
            <line x1={xa} x2={xb} y1={yy} y2={yy} stroke="#000" strokeWidth={sw} />
            <line x1={xa} x2={xa} y1={yy - 3} y2={yy + 3} stroke="#000" strokeWidth={sw} />
            <line x1={xb} x2={xb} y1={yy - 3} y2={yy + 3} stroke="#000" strokeWidth={sw} />
            <text x={(xa + xb) / 2} y={s.italic ? yy - 5 : yy + 1} textAnchor="middle" fontSize={s.italic ? 7.5 : s.thick ? 14 : 12} fontStyle={s.italic ? "italic" : "normal"} fontWeight={s.italic ? "normal" : "bold"} fill="#000">{s.text}</text>
          </g>
        );
      })}
      <line x1={b.x0} x2={b.x1} y1={b.y0} y2={b.y0} stroke="#000" strokeWidth={2} />
      <line x1={b.x1} x2={b.x1} y1={b.y0 - 1} y2={b.y1 + 1} stroke="#000" strokeWidth={2} />
      <line x1={b.x0 - 1} x2={b.x1 + 1} y1={b.y1} y2={b.y1} stroke="#000" strokeWidth={2} />
      {broken ? (
        <g stroke="#000" strokeWidth={2}>
          <line x1={b.x0} x2={b.x0} y1={b.y0 - 1} y2={562} />
          <line x1={b.x0} x2={b.x0} y1={572} y2={b.y1 + 1} />
          <line x1={b.x0 - 3} x2={b.x0 + 3} y1={562} y2={562} strokeWidth={2.5} />
          <line x1={b.x0 - 3} x2={b.x0 + 3} y1={572} y2={572} strokeWidth={2.5} />
        </g>
      ) : (
        <line x1={b.x0} x2={b.x0} y1={b.y0 - 1} y2={b.y1 + 1} stroke="#000" strokeWidth={2} />
      )}
      {ticks.map((t: number) => (
        <g key={"yt" + t}>
          <line x1={b.x0 - 3} x2={b.x0} y1={ys(t)} y2={ys(t)} stroke="#000" strokeWidth={1} />
          <text x={b.x0 - 4} y={ys(t)} dominantBaseline="central" textAnchor="end" fontSize={7.5} fill="#111">{t}</text>
        </g>
      ))}
      {ROUTES.map((r) => {
        const cx = outer(r)! + outer.bandwidth() / 2;
        return (
          <g key={"xr" + r}>
            <line x1={cx} x2={cx} y1={b.y1} y2={b.y1 + 3} stroke="#000" strokeWidth={1} />
            <text x={cx} y={b.y1 + 12} textAnchor="middle" fontSize={8.5} fill="#111">{r}</text>
          </g>
        );
      })}
    </g>
  );
}

function Panel({ p }: any) {
  const y = d3.scaleLinear().domain(p.yDomain).range([p.bottom, p.top]);
  const midY = (p.top + p.bottom) / 2;
  return (
    <g>
      <text x={p.lx} y={p.ly} fontSize={10.5} fontWeight="bold" fill="#000">{p.label}</text>
      <Facet p={p} name="IV" xr={p.iv} lines={p.ivLine} bands={p.ivBand} pts={p.ivPts} y={y} stars={[]} />
      <Facet p={p} name="SC" xr={p.sc} lines={p.scLine} bands={p.scBand} pts={p.scPts} y={y} stars={p.stars} />
      {p.yTicks.map((t: number) => (
        <g key={"y" + t}>
          <line x1={p.iv[0] - 3} x2={p.iv[0]} y1={y(t)} y2={y(t)} stroke="#333" strokeWidth={0.9} />
          <text x={p.iv[0] - 5} y={y(t)} dominantBaseline="central" textAnchor="end" fontSize={9} fill="#4d4d4d">{t}</text>
        </g>
      ))}
      <text transform={`translate(${p.ytx},${midY}) rotate(-90)`} textAnchor="middle" dominantBaseline="central" fontSize={10.5} fill="#1a1a1a">{p.ytitle}</text>
      <text x={(p.iv[0] + p.sc[1]) / 2} y={p.bottom + 27} textAnchor="middle" fontSize={10.5} fill="#1a1a1a">dpi</text>
      <AucChart p={p} />
    </g>
  );
}

function Legends() {
  const ys = [40, 50.7, 61.7];
  const bys = [23, 33, 43];
  const sym = [d3.symbolTriangle, d3.symbolSquare, d3.symbolCircle];
  return (
    <g>
      <rect x={161} y={34} width={59} height={33} fill="#fff" />
      {STRAINS.map((s, i) => (
        <g key={"lg" + s}>
          <line x1={163} x2={176} y1={ys[i]} y2={ys[i]} stroke={LINE_COLORS[i]} strokeWidth={3} />
          <text x={179} y={ys[i]} dominantBaseline="central" fontSize={7.5} fill="#1a1a1a">{s}</text>
        </g>
      ))}
      {STRAINS.map((s, i) => (
        <g key={"bl" + s}>
          <path d={d3.symbol().type(sym[i]).size(14)() || ""} transform={`translate(351,${bys[i]})`} fill={BAR_COLORS[i]} />
          <text x={356} y={bys[i]} dominantBaseline="central" fontSize={7.8} fill="#111">{s}</text>
        </g>
      ))}
    </g>
  );
}

export default function App() {
  return (
    <svg width={750} height={1021} style={{ position: "absolute", left: 0, top: 0 }} fontFamily={FONT}>
      <rect width={750} height={1021} fill="#fff" />
      {PANELS.map((p) => (
        <Panel key={p.key} p={p} />
      ))}
      <Legends />
    </svg>
  );
}
